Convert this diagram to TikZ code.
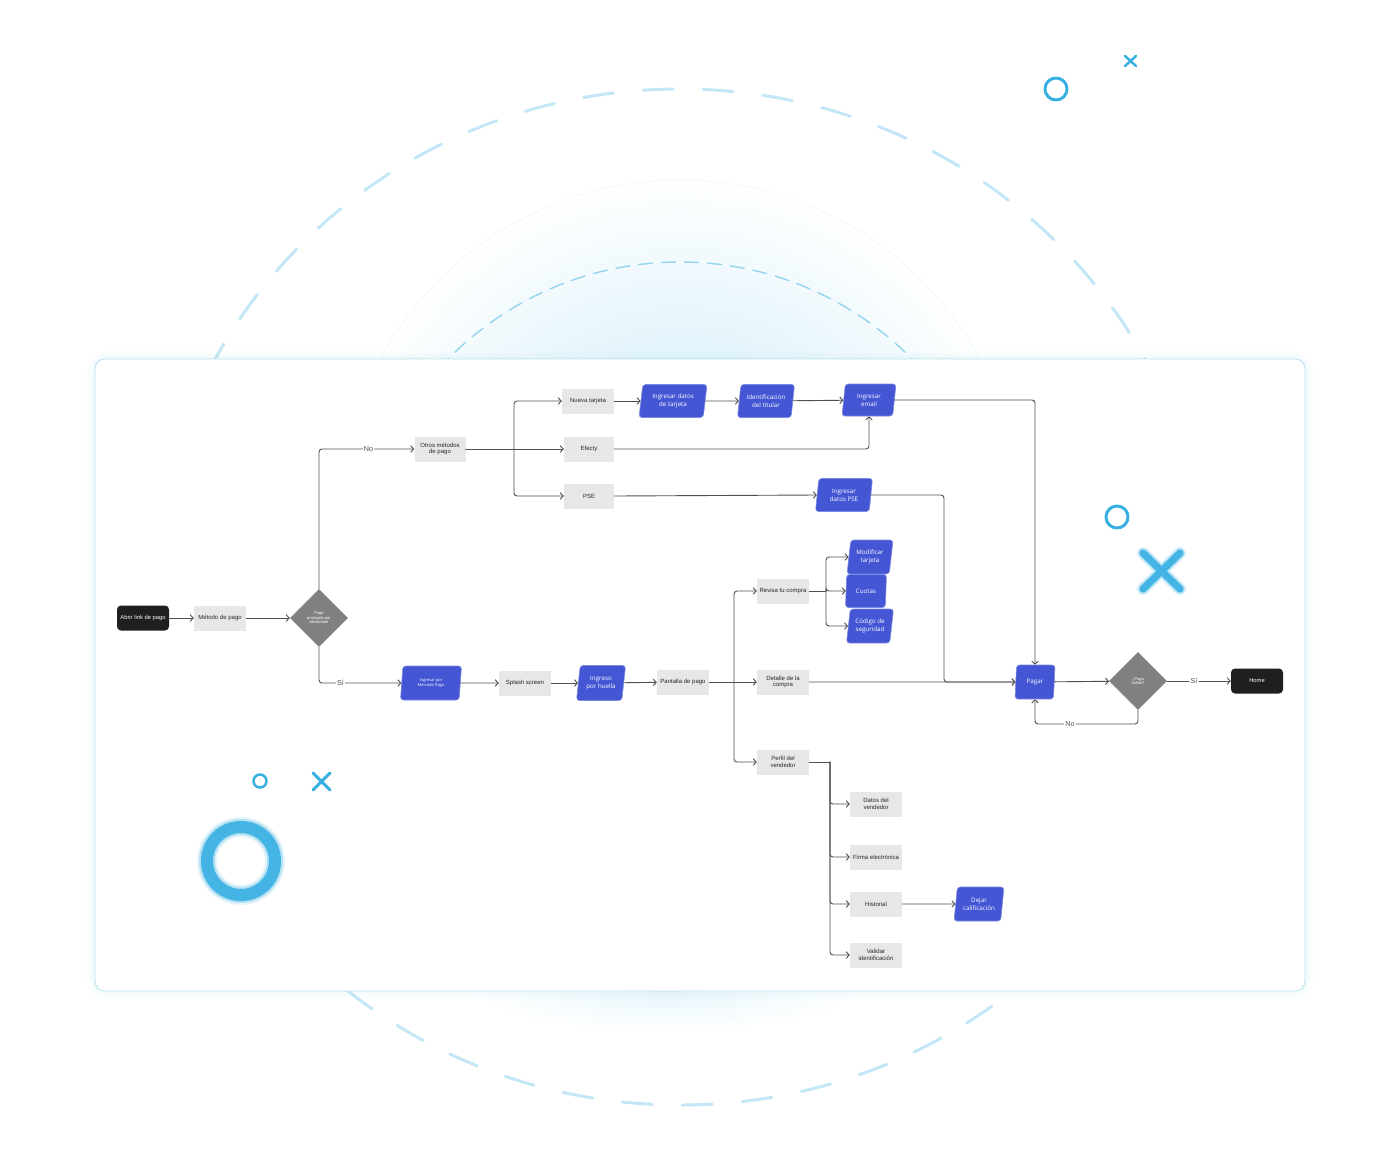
\documentclass[tikz,border=0pt]{standalone}
\usepackage{fontspec}
\setmainfont{Liberation Sans}
\newfontfamily\abierta{Open Sans}
\usetikzlibrary{shapes.geometric,arrows.meta,positioning}

\definecolor{azul}{RGB}{68,86,212}
\definecolor{cielo}{RGB}{56,176,226}
\definecolor{gris}{RGB}{231,231,231}
\definecolor{linea}{RGB}{80,80,80}
\definecolor{rombogris}{RGB}{128,128,128}
\definecolor{borde}{RGB}{188,228,238}

\begin{document}
\begin{tikzpicture}[x=1pt,y=-1pt,line cap=round,line join=round,>={Straight Barb[length=3pt,width=6.5pt]},
	caja/.style={fill=gris,minimum width=52,minimum height=25,inner sep=1pt,align=center,
		text=black!85,font=\fontsize{6}{6.8}\selectfont},
	accion/.style={trapezium,trapezium left angle=75,trapezium right angle=105,trapezium stretches body,
		fill=azul,draw=azul!70!white,line width=0.6,rounded corners=3,minimum width=58,minimum height=33,
		inner sep=0pt,align=center,text=white,font=\abierta\fontsize{6.2}{8}\selectfont},
	terminal/.style={fill=black!88,rounded corners=4,minimum width=52,minimum height=25,inner sep=1pt,
		text=white,font=\fontsize{5.8}{6.6}\selectfont},
	rombo/.style={diamond,fill=rombogris,minimum size=58,inner sep=0pt,align=center,text=white,
		font=\fontsize{4}{4.6}\selectfont},
	etiq/.style={fill=white,inner sep=1.2pt,text=linea,font=\fontsize{7.2}{8}\selectfont},
	flujo/.style={draw=linea,line width=0.9,rounded corners=3}]
	\useasboundingbox (0,0) rectangle (1400,1165);
	% fondo
	\shade[inner color=cielo!28,outer color=white] (680,520) circle (345);
	\draw[cielo!6,line width=1] (680,520) circle (340);
	\shade[inner color=cielo!11,outer color=white] (665,995) ellipse [x radius=190,y radius=36];
	\draw[cielo!30,line width=3,dash pattern=on 30pt off 30pt] (680,597) ellipse [x radius=526,y radius=508];
	\draw[cielo!55,line width=1.4,dash pattern=on 14pt off 9pt] (680,588) circle (326);
	% tarjeta
	\foreach \w/\o in {16/0.04,10/0.06,5/0.1}
	\draw[borde,line width=\w,opacity=\o,rounded corners=10] (95,359) rectangle (1305,991);
	\draw[borde,fill=white,line width=0.9,rounded corners=10] (95,359) rectangle (1305,991);

	% nodos
	\node[terminal] (abrir) at (143,618) {Abrir link de pago};
	\node[caja] (metodo) at (220,618) {Método de pago};
	\node[rombo] (blockchain) at (319,618) {Pago\\protegido por\\blockchain};
	\node[caja,minimum width=51] (otros) at (440,449) {Otros métodos\\de pago};
	\node[caja] (nueva) at (588,401) {Nueva tarjeta};
	\node[caja,minimum width=50] (efecty) at (589,449) {Efecty};
	\node[caja,minimum width=50] (pse) at (589,496) {PSE};
	\node[accion,minimum width=68] (datostarjeta) at (673,401) {Ingresar datos\\de tarjeta};
	\node[accion,minimum width=57] (titular) at (766,401) {Identificación\\del titular};
	\node[accion,minimum width=54,minimum height=32] (email) at (869,400) {Ingresar\\email};
	\node[accion,minimum width=57] (datospse) at (844,495) {Ingresar\\datos PSE};
	\node[accion,minimum width=61,minimum height=34,font=\abierta\fontsize{4}{5.2}\selectfont] (mercado) at (431,683) {Ingresar por\\Mercado Pago};
	\node[caja] (splash) at (525,683) {Splash screen};
	\node[accion,minimum width=49,minimum height=35] (huella) at (601,683) {Ingreso\\por huella};
	\node[caja] (pantalla) at (683,682) {Pantalla de pago};
	\node[caja] (revisa) at (783,591) {Revisa tu compra};
	\node[accion,minimum width=46,minimum height=34] (modificar) at (870,557) {Modificar\\tarjeta};
	\node[accion,minimum width=41,minimum height=33] (cuotas) at (866,591) {Cuotas};
	\node[accion,minimum width=47,minimum height=34] (codigo) at (870,626) {Código de\\seguridad};
	\node[caja] (detalle) at (783,682) {Detalle de la\\compra};
	\node[caja] (perfil) at (783,762) {Perfil del\\vendedor};
	\node[caja] (datosvend) at (876,804) {Datos del\\vendedor};
	\node[caja] (firma) at (876,857) {Firma electrónica};
	\node[caja] (historial) at (876,904) {Historial};
	\node[caja] (validar) at (876,955) {Validar\\identificación};
	\node[accion,minimum width=50,minimum height=34] (dejar) at (979,904) {Dejar\\calificación};
	\node[accion,minimum width=40,minimum height=34] (pagar) at (1035,682) {Pagar};
	\node[rombo] (valido) at (1138,681) {¿Pago\\válido?};
	\node[terminal] (home) at (1257,681) {Home};

	\coordinate (rama1) at (514,449);
	\coordinate (rama2) at (734,682);
	\coordinate (rama3) at (826,591);
	\coordinate (rama4) at (830,762);
	\coordinate (bajapse) at (944,682);
	\coordinate (vuelta) at (1035,724);

	% conectores
	\draw[flujo,->] (abrir) -- (metodo);
	\draw[flujo,->] (metodo) -- (blockchain);
	\draw[flujo,->] (blockchain.north) |- node[etiq,pos=0.76] {No} (otros.west);
	\draw[flujo,->] (blockchain.south) |- node[etiq,pos=0.63] {Sí} (mercado.west);
	\draw[flujo] (otros.east) -- (rama1);
	\draw[flujo,->] (rama1) |- (nueva.west);
	\draw[flujo,->] (rama1) -- (efecty.west);
	\draw[flujo,->] (rama1) |- (pse.west);
	\draw[flujo,->] (nueva) -- (datostarjeta);
	\draw[flujo,->] (datostarjeta) -- (titular);
	\draw[flujo,->] (titular) -- (email);
	\draw[flujo,->] (efecty.east) -| (email.south);
	\draw[flujo,->] (pse.east) -- (datospse.west);
	\draw[flujo,->] (email.east) -| (pagar.north);
	\draw[flujo,->] (datospse.east) -| (bajapse) -- (pagar.west);
	\draw[flujo,->] (mercado) -- (splash);
	\draw[flujo,->] (splash) -- (huella);
	\draw[flujo,->] (huella) -- (pantalla);
	\draw[flujo] (pantalla.east) -- (rama2);
	\draw[flujo,->] (rama2) |- (revisa.west);
	\draw[flujo,->] (rama2) -- (detalle.west);
	\draw[flujo,->] (rama2) |- (perfil.west);
	\draw[flujo] (revisa.east) -- (rama3);
	\foreach \n in {modificar,cuotas,codigo}
	\draw[flujo,->] (rama3) |- (\n.west);
	\draw[flujo,->] (detalle.east) -- (pagar.west);
	\draw[flujo] (perfil.east) -- (rama4);
	\foreach \n in {datosvend,firma,historial,validar}
	\draw[flujo,->] (rama4) |- (\n.west);
	\draw[flujo,->] (historial) -- (dejar);
	\draw[flujo,->] (pagar) -- (valido);
	\draw[flujo,->] (valido) -- node[etiq,pos=0.42] {Sí} (home);
	\draw[flujo,->] (valido.south) |- node[etiq,pos=0.83] {No} (vuelta) -- (pagar.south);

	% adornos
	\draw[cielo,line width=3] (1056,89) circle (11);
	\draw[cielo,line width=2.5] (1125,56) -- (1136,66) (1125,66) -- (1136,56);
	\draw[cielo,line width=3] (1117,517) circle (11);
	\foreach \w/\o in {13/0.12,10/0.3,7/0.9}
	\draw[cielo,line width=\w,opacity=\o] (1143,553) -- (1180,589) (1143,589) -- (1180,553);
	\draw[cielo,line width=2.5] (260,781) circle (6.5);
	\draw[cielo,line width=3] (313,773) -- (330,790) (313,790) -- (330,773);
	\foreach \w/\o in {20/0.12,16/0.3,12/0.9}
	\draw[cielo,line width=\w,opacity=\o] (241,861) circle (34);
\end{tikzpicture}
\end{document}
